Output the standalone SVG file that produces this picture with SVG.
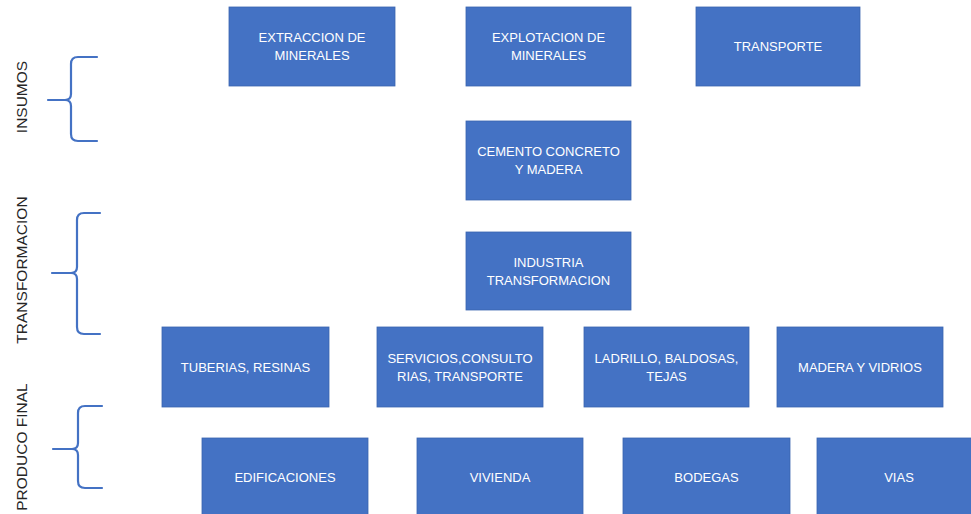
<svg xmlns="http://www.w3.org/2000/svg" width="971" height="514" viewBox="0 0 971 514">
<style>
.box{fill:#4472C4;stroke:#3a64b0;stroke-width:0.8}
.t{font-family:"Liberation Sans",Arial,sans-serif;font-size:13px;fill:#ffffff;text-anchor:middle}
.lbl{font-family:"Liberation Sans",Arial,sans-serif;font-size:15.5px;fill:#262626;text-anchor:middle}
.brace{fill:none;stroke:#4472C4;stroke-width:2.2;stroke-linecap:round;stroke-linejoin:round}
</style>
<rect width="971" height="514" fill="#ffffff"/>
<g id="labels">
<text class="lbl" transform="translate(27,97) rotate(-90)">INSUMOS</text>
<text class="lbl" transform="translate(27,270) rotate(-90)">TRANSFORMACION</text>
<text class="lbl" transform="translate(27,447) rotate(-90)">PRODUCO FINAL</text>
</g>
<g id="connectors">
<path class="brace" d="M97,57 L78,57 Q71,57 71,64 L71,94 Q71,100 65,100 L48,100 M65,100 Q71,100 71,106 L71,134 Q71,141 78,141 L97,141"/>
<path class="brace" d="M100,213 L84,213 Q77,213 77,220 L77,267 Q77,273 71,273 L52,273 M71,273 Q77,273 77,279 L77,327 Q77,334 84,334 L100,334"/>
<path class="brace" d="M102,406 L85,406 Q78,406 78,413 L78,443 Q78,449 72,449 L53,449 M72,449 Q78,449 78,455 L78,481 Q78,488 85,488 L102,488"/>
</g>
<g id="n-extraccion"><rect class="box" x="229" y="7" width="166" height="79"/><text class="t" x="312" y="42">EXTRACCION DE</text><text class="t" x="312" y="60">MINERALES</text></g>
<g id="n-explotacion"><rect class="box" x="466" y="7" width="165" height="79"/><text class="t" x="548.5" y="42">EXPLOTACION DE</text><text class="t" x="548.5" y="60">MINERALES</text></g>
<g id="n-transporte"><rect class="box" x="696" y="7" width="164" height="79"/><text class="t" x="778" y="51">TRANSPORTE</text></g>
<g id="n-cemento"><rect class="box" x="466" y="121" width="165" height="79"/><text class="t" x="548.5" y="156">CEMENTO CONCRETO</text><text class="t" x="548.5" y="174">Y MADERA</text></g>
<g id="n-industria"><rect class="box" x="466" y="232" width="165" height="78"/><text class="t" x="548.5" y="267">INDUSTRIA</text><text class="t" x="548.5" y="285">TRANSFORMACION</text></g>
<g id="n-tuberias"><rect class="box" x="162" y="327" width="167" height="80"/><text class="t" x="245.5" y="372">TUBERIAS, RESINAS</text></g>
<g id="n-servicios"><rect class="box" x="377" y="327" width="166" height="80"/><text class="t" x="460" y="363">SERVICIOS,CONSULTO</text><text class="t" x="460" y="381">RIAS, TRANSPORTE</text></g>
<g id="n-ladrillo"><rect class="box" x="584" y="327" width="165" height="80"/><text class="t" x="666.5" y="363">LADRILLO, BALDOSAS,</text><text class="t" x="666.5" y="381">TEJAS</text></g>
<g id="n-madera"><rect class="box" x="777" y="327" width="166" height="80"/><text class="t" x="860" y="372">MADERA Y VIDRIOS</text></g>
<g id="n-edificaciones"><rect class="box" x="202" y="438" width="166" height="80"/><text class="t" x="285" y="482">EDIFICACIONES</text></g>
<g id="n-vivienda"><rect class="box" x="417" y="438" width="166" height="80"/><text class="t" x="500" y="482">VIVIENDA</text></g>
<g id="n-bodegas"><rect class="box" x="623" y="438" width="167" height="80"/><text class="t" x="706.5" y="482">BODEGAS</text></g>
<g id="n-vias"><rect class="box" x="817" y="438" width="166" height="80"/><text class="t" x="899" y="482">VIAS</text></g>
</svg>
